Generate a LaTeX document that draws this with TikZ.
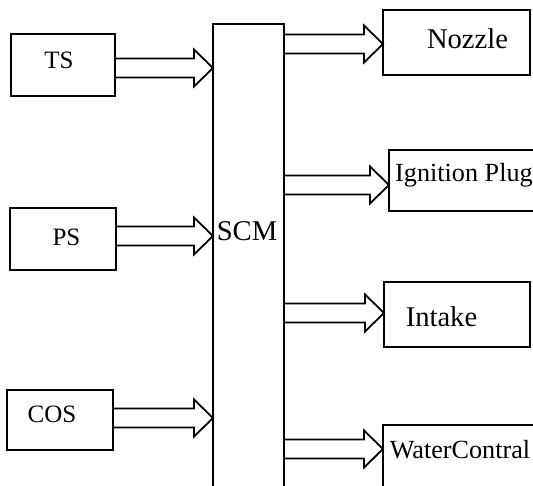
\documentclass[tikz,border=0pt]{standalone}
\usepackage{fontspec}
\setmainfont{Liberation Serif}
\usetikzlibrary{calc}

\begin{document}
\begin{tikzpicture}[x=1pt, y=-1pt,
  box/.style={draw, line width=2pt, outer sep=0pt, inner sep=0pt, anchor=north west},
  lbl/.style={font=\fontsize{#1}{#1}\selectfont, inner sep=0pt},
  blockarr/.style={draw, line width=1.8pt, line join=miter}]
  \useasboundingbox (0,0) rectangle (533,486);
  % sensors
  \node[box, minimum width=104pt, minimum height=62pt, label={[lbl=25pt, xshift=-4pt, yshift=5pt]center:TS}] (ts) at (11,34) {};
  \node[box, minimum width=106pt, minimum height=62pt, label={[lbl=25pt, xshift=3.5pt, yshift=1.5pt]center:PS}] (ps) at (10,208) {};
  \node[box, minimum width=106pt, minimum height=60pt, label={[lbl=25pt, xshift=-8pt, yshift=6pt]center:COS}] (cos) at (7,390) {};
  % control module
  \node[box, minimum width=71pt, minimum height=470pt, label={[lbl=28.6pt, xshift=-1.5pt, yshift=28pt]center:SCM}] (scm) at (213,24) {};
  % actuators
  \node[box, minimum width=147pt, minimum height=65pt, label={[lbl=28.6pt, xshift=11pt, yshift=3.5pt]center:Nozzle}] (noz) at (383,10) {};
  \node[box, minimum width=160pt, minimum height=61pt, label={[lbl=26.2pt, xshift=-5pt, yshift=5pt]center:Ignition Plug}] (ign) at (389,150) {};
  \node[box, minimum width=146pt, minimum height=65pt, label={[lbl=28.6pt, xshift=-15.5pt, yshift=-2.5pt]center:Intake}] (int) at (384,282) {};
  \node[box, minimum width=160pt, minimum height=64pt, label={[lbl=26.2pt, xshift=-3pt, yshift=7pt]center:WaterContral}] (wat) at (383,425) {};
  % block arrows
  \foreach \a/\b/\d in {ts.east/scm.west/3, ps.east/scm.west/-3, cos.east/scm.west/-2,
      scm.east|-noz.west/noz.west/1.5, scm.east|-ign.west/ign.west/4.5,
      scm.east|-int.west/int.west/-1.5, scm.east|-wat.west/wat.west/-8}
    \draw[blockarr] let \p1=($(\a)+(0,\d)$), \p2=(\b) in
      (\x1,\y1+9.5pt) -- (\x2-19pt,\y1+9.5pt) -- (\x2-19pt,\y1+18.5pt) -- (\x2,\y1)
      -- (\x2-19pt,\y1-18.5pt) -- (\x2-19pt,\y1-9.5pt) -- (\x1,\y1-9.5pt) -- cycle;
\end{tikzpicture}
\end{document}
